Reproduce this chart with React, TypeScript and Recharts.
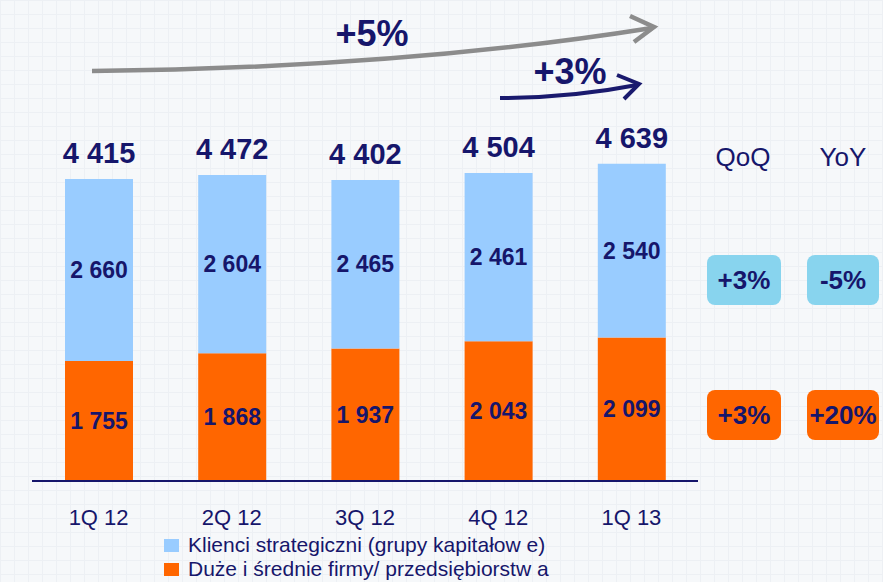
import React from "react";
import { BarChart, Bar, XAxis, YAxis, LabelList } from "recharts";

const categories = ["1Q 12", "2Q 12", "3Q 12", "4Q 12", "1Q 13"];
const duzeSrednie = [1755, 1868, 1937, 2043, 2099];
const strategiczni = [2660, 2604, 2465, 2461, 2540];
const totals = [4415, 4472, 4402, 4504, 4639];
const legendLabels = [
  "Klienci strategiczni (grupy kapitałow e)",
  "Duże i średnie firmy/ przedsiębiorstw a",
];
const qoqLabels = ["+3%", "+3%"];
const yoyLabels = ["-5%", "+20%"];
const growthLabels = ["+5%", "+3%"];

const data = categories.map((c, i) => ({
  name: c,
  duze: duzeSrednie[i],
  strat: strategiczni[i],
  total: totals[i],
}));

const NAVY = "#16166B";
const BLUE = "#99CCFF";
const ORANGE = "#FF6600";
const BOX_BLUE = "#88D4EE";
const FONT = "'Liberation Sans', Arial, sans-serif";

const fmt = (v: number) => {
  const s = String(v);
  return s.length > 3 ? s.slice(0, s.length - 3) + " " + s.slice(-3) : s;
};

const InnerLabel = (props: any) => {
  const { x, y, width, height, value } = props;
  return (
    <text
      x={x + width / 2}
      y={y + height / 2}
      textAnchor="middle"
      dominantBaseline="central"
      fill={NAVY}
      fontFamily={FONT}
      fontWeight="bold"
      fontSize={23}
    >
      {fmt(value)}
    </text>
  );
};

const TotalLabel = (props: any) => {
  const { x, y, width, index } = props;
  return (
    <text
      x={x + width / 2}
      y={y - 26}
      textAnchor="middle"
      dominantBaseline="central"
      fill={NAVY}
      fontFamily={FONT}
      fontWeight="bold"
      fontSize={29}
    >
      {fmt(totals[index])}
    </text>
  );
};

const Tick = (props: any) => {
  const { x, y, payload } = props;
  return (
    <text
      x={x}
      y={y + 36}
      textAnchor="middle"
      dominantBaseline="central"
      fill={NAVY}
      fontFamily={FONT}
      fontSize={22}
    >
      {payload.value}
    </text>
  );
};

const boxStyle = (bg: string, left: number, top: number, w: number): React.CSSProperties => ({
  position: "absolute",
  left,
  top,
  width: w,
  height: 50,
  background: bg,
  borderRadius: 8,
  display: "flex",
  alignItems: "center",
  justifyContent: "center",
  color: NAVY,
  fontFamily: FONT,
  fontWeight: "bold",
  fontSize: 26,
});

export default function App() {
  return (
    <div
      style={{
        position: "absolute",
        left: 0,
        top: 0,
        width: 883,
        height: 582,
        overflow: "hidden",
        backgroundColor: "#F6F8FA",
        backgroundImage:
          "linear-gradient(#EDF0F4 1px, transparent 1px), linear-gradient(90deg, #EDF0F4 1px, transparent 1px)",
        backgroundSize: "14px 14px",
      }}
    >
      <BarChart
        width={883}
        height={582}
        data={data}
        margin={{ top: 139, right: 185, left: 32, bottom: 71 }}
        barSize={68}
      >
        <YAxis hide domain={[0, 5000]} />
        <XAxis
          dataKey="name"
          height={30}
          tickLine={false}
          tickSize={0}
          tickMargin={0}
          axisLine={{ stroke: NAVY, strokeWidth: 2 }}
          tick={<Tick />}
          interval={0}
        />
        <Bar dataKey="duze" stackId="a" fill={ORANGE} isAnimationActive={false}>
          <LabelList dataKey="duze" content={<InnerLabel />} />
        </Bar>
        <Bar dataKey="strat" stackId="a" fill={BLUE} isAnimationActive={false}>
          <LabelList dataKey="strat" content={<InnerLabel />} />
          <LabelList dataKey="total" content={<TotalLabel />} />
        </Bar>
      </BarChart>

      <svg
        width={883}
        height={130}
        style={{ position: "absolute", left: 0, top: 0, pointerEvents: "none" }}
      >
        <path d="M92 71 Q 400 68 652 28" stroke="#8C8C8C" strokeWidth={4.5} fill="none" />
        <path d="M630 16 L654 27 L634 42" stroke="#8C8C8C" strokeWidth={4.5} fill="none" />
        <path d="M500 98 Q 570 98 637 85" stroke="#1A1A6E" strokeWidth={4} fill="none" />
        <path d="M617 75 L639 84 L624 99" stroke="#1A1A6E" strokeWidth={4} fill="none" />
        <text
          x={372}
          y={33}
          textAnchor="middle"
          dominantBaseline="central"
          fill={NAVY}
          fontFamily={FONT}
          fontWeight="bold"
          fontSize={36}
        >
          {growthLabels[0]}
        </text>
        <text
          x={570}
          y={71}
          textAnchor="middle"
          dominantBaseline="central"
          fill={NAVY}
          fontFamily={FONT}
          fontWeight="bold"
          fontSize={36}
        >
          {growthLabels[1]}
        </text>
      </svg>

      <div
        style={{
          position: "absolute",
          left: 704,
          top: 142,
          width: 78,
          textAlign: "center",
          fontFamily: FONT,
          fontSize: 26,
          color: NAVY,
        }}
      >
        QoQ
      </div>
      <div
        style={{
          position: "absolute",
          left: 805,
          top: 142,
          width: 76,
          textAlign: "center",
          fontFamily: FONT,
          fontSize: 26,
          color: NAVY,
        }}
      >
        YoY
      </div>
      <div style={boxStyle(BOX_BLUE, 707, 255, 74)}>{qoqLabels[0]}</div>
      <div style={boxStyle(BOX_BLUE, 807, 255, 72)}>{yoyLabels[0]}</div>
      <div style={boxStyle(ORANGE, 707, 390, 74)}>{qoqLabels[1]}</div>
      <div style={boxStyle(ORANGE, 807, 390, 72)}>{yoyLabels[1]}</div>

      <div
        style={{
          position: "absolute",
          left: 164,
          top: 533,
          fontFamily: FONT,
          fontSize: 21,
          color: NAVY,
          lineHeight: "24px",
        }}
      >
        {legendLabels.map((l, i) => (
          <div key={l} style={{ display: "flex", alignItems: "center", whiteSpace: "nowrap", height: 24 }}>
            <span
              style={{
                display: "inline-block",
                width: 15,
                height: 13,
                background: i === 0 ? BLUE : ORANGE,
                marginRight: 9,
              }}
            />
            <span>{l}</span>
          </div>
        ))}
      </div>
    </div>
  );
}
